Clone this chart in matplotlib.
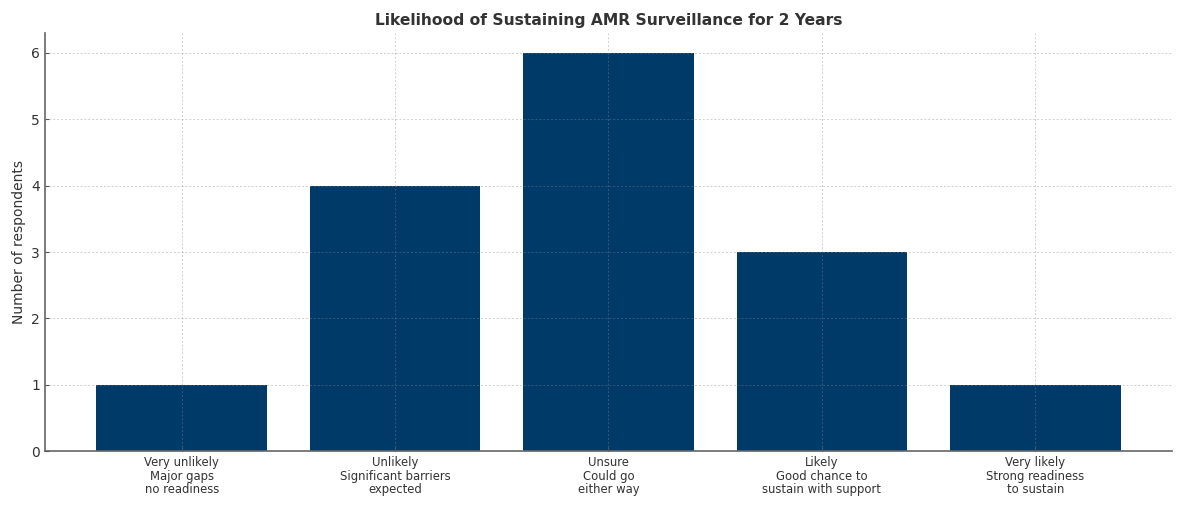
import matplotlib
matplotlib.use("Agg")
import matplotlib.pyplot as plt

categories = [
    "Very unlikely\nMajor gaps\nno readiness",
    "Unlikely\nSignificant barriers\nexpected",
    "Unsure\nCould go\neither way",
    "Likely\nGood chance to\nsustain with support",
    "Very likely\nStrong readiness\nto sustain",
]
counts = [1, 4, 6, 3, 1]

plt.rcParams['font.family'] = ['DejaVu Sans']
text_color = '#333333'

fig = plt.figure(figsize=(11.85, 5.07), dpi=100)
ax = fig.add_axes([0.038, 0.110, 0.951, 0.825])

x = list(range(len(categories)))
ax.bar(x, counts, width=0.8, color='#003A69', zorder=1)
ax.set_xticks(x)
ax.set_xticklabels(categories, fontsize=8.4, color=text_color, linespacing=1.05)
ax.tick_params(axis='y', labelsize=10, labelcolor=text_color)
ax.tick_params(axis='both', direction='in', length=3, color='#555555')
ax.set_ylabel("Number of respondents", fontsize=10, color=text_color)
ax.set_title("Likelihood of Sustaining AMR Surveillance for 2 Years",
             fontsize=11.2, fontweight='bold', color=text_color, pad=6)

ax.grid(True, linestyle=(0, (2, 2)), color='#888888', alpha=0.4,
        linewidth=0.7, zorder=2)
ax.set_axisbelow(False)
for s in ['top', 'right']:
    ax.spines[s].set_visible(False)
for s in ['left', 'bottom']:
    ax.spines[s].set_color('#666666')
    ax.spines[s].set_linewidth(1.2)

fig.savefig("out.png", dpi=100)
